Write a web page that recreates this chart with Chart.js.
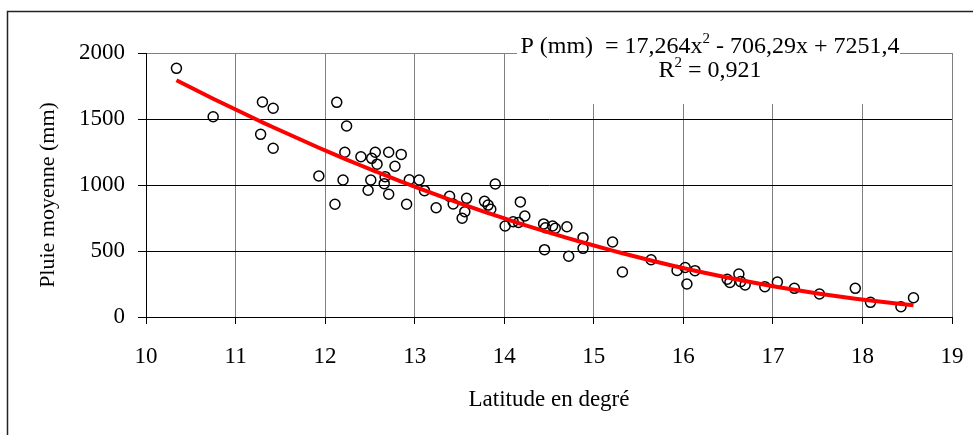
<!DOCTYPE html>
<html>
<head>
<meta charset="utf-8">
<title>Pluie moyenne et latitude</title>
<script src="https://cdn.jsdelivr.net/npm/chart.js@4.4.0/dist/chart.umd.min.js"></script>
<style>
  html, body { margin: 0; padding: 0; background: #fff; }
  #wrap { width: 973px; height: 435px; }
</style>
</head>
<body>
<div id="wrap"><canvas id="c" width="973" height="435"></canvas></div>
<script>
// Stations: latitude (degrees) and mean annual rainfall (mm)
const latitudes = [
  10.34, 10.75, 11.28, 11.30, 11.42, 11.42, 11.93, 12.11, 12.13, 12.20,
  12.22, 12.24, 12.40, 12.48, 12.51, 12.52, 12.56, 12.58, 12.66, 12.67,
  12.71, 12.71, 12.78, 12.85, 12.91, 12.94, 13.05, 13.11, 13.24, 13.39,
  13.43, 13.53, 13.56, 13.58, 13.78, 13.82, 13.85, 13.90, 14.01, 14.10,
  14.16, 14.18, 14.23, 14.44, 14.45, 14.46, 14.54, 14.57, 14.70, 14.72,
  14.88, 14.88, 15.21, 15.32, 15.64, 15.93, 16.02, 16.04, 16.13, 16.49,
  16.52, 16.62, 16.64, 16.69, 16.91, 17.05, 17.24, 17.52, 17.92, 18.09,
  18.43, 18.57
];
const rainfall = [
  1884, 1517, 1384, 1629, 1581, 1278, 1068, 854, 1626, 1038,
  1248, 1447, 1214, 960, 1038, 1202, 1248, 1158, 1010, 1063,
  1248, 930, 1142, 1232, 854, 1040, 1038, 957, 828, 914,
  856, 748, 798, 899, 876, 848, 816, 1008, 689, 722,
  716, 872, 765, 705, 510, 676, 689, 672, 684, 460,
  601, 520, 568, 341, 434, 353, 375, 250, 351, 286,
  262, 326, 268, 242, 230, 265, 217, 174, 217, 111,
  78, 146
];

// Polynomial trend (order 2): a·x² + b·x + c, and its coefficient of determination
const trendCoefs = [17.264, -706.29, 7251.4];
const rSquared = 0.921;

// Axis ticks and titles
const xTicks = [10, 11, 12, 13, 14, 15, 16, 17, 18, 19];
const yTicks = [0, 500, 1000, 1500, 2000];
const xTitle = 'Latitude en degré';
const yTitle = 'Pluie moyenne (mm)';

const SERIF = '"Liberation Serif", "Times New Roman", serif';
Chart.defaults.font.family = SERIF;
Chart.defaults.color = '#000';

const points = latitudes.map((x, i) => ({ x: x, y: rainfall[i] }));
const trendX = Array.from(new Set(latitudes)).sort((a, b) => a - b);
const trendPoints = trendX.map(x => ({
  x: x,
  y: trendCoefs[0] * x * x + trendCoefs[1] * x + trendCoefs[2]
}));

const fr = v => String(v).replace('.', ',');
const sign = v => (v < 0 ? ' - ' : ' + ');

// Equation label drawn as rich text (with superscripts) on a white box
const equationBox = {
  id: 'equationBox',
  beforeDatasetsDraw(chart) {
    const ctx = chart.ctx;
    const cx = 710;
    const main = '24px ' + SERIF;
    const sup = '15px ' + SERIF;
    const line1 = [
      ['P (mm)  = ' + fr(trendCoefs[0]) + 'x', false], ['2', true],
      [sign(trendCoefs[1]) + fr(Math.abs(trendCoefs[1])) + 'x' + sign(trendCoefs[2]) + fr(Math.abs(trendCoefs[2])), false]
    ];
    const line2 = [['R', false], ['2', true], [' = ' + fr(rSquared), false]];
    ctx.save();
    ctx.fillStyle = '#fff';
    ctx.fillRect(517, 26, 383, 78);
    ctx.fillStyle = '#000';
    ctx.textBaseline = 'alphabetic';
    ctx.textAlign = 'left';
    const drawLine = (parts, baseY) => {
      let w = 0;
      parts.forEach(p => { ctx.font = p[1] ? sup : main; w += ctx.measureText(p[0]).width; });
      let x = cx - w / 2;
      parts.forEach(p => {
        ctx.font = p[1] ? sup : main;
        ctx.fillText(p[0], x, p[1] ? baseY - 10 : baseY);
        x += ctx.measureText(p[0]).width;
      });
    };
    drawLine(line1, 53);
    drawLine(line2, 77);
    ctx.restore();
  }
};

// Vertical axis title, rotated
const yTitlePlugin = {
  id: 'yTitlePlugin',
  afterDraw(chart) {
    const ctx = chart.ctx;
    ctx.save();
    ctx.translate(48, 195);
    ctx.rotate(-Math.PI / 2);
    ctx.font = '22px ' + SERIF;
    ctx.fillStyle = '#000';
    ctx.textAlign = 'center';
    ctx.textBaseline = 'middle';
    ctx.fillText(yTitle, 0, 0);
    ctx.restore();
  }
};

// Outer frame and white background
const frame = {
  id: 'frame',
  beforeDraw(chart) {
    const ctx = chart.ctx;
    ctx.save();
    ctx.fillStyle = '#fff';
    ctx.fillRect(0, 0, chart.width, chart.height);
    ctx.strokeStyle = '#222';
    ctx.lineWidth = 1.5;
    ctx.strokeRect(7.5, 11.5, chart.width + 10, chart.height + 10);
    ctx.restore();
  }
};

new Chart(document.getElementById('c'), {
  type: 'scatter',
  data: {
    datasets: [
      {
        label: 'Tendance',
        data: trendPoints,
        showLine: true,
        borderColor: '#ff0000',
        borderWidth: 4,
        pointRadius: 0,
        tension: 0,
        order: 0
      },
      {
        label: 'Pluie moyenne',
        data: points,
        pointStyle: 'circle',
        pointRadius: 5,
        pointBorderWidth: 1.5,
        borderColor: '#000',
        backgroundColor: 'rgba(0,0,0,0)',
        order: 1
      }
    ]
  },
  options: {
    responsive: false,
    animation: false,
    devicePixelRatio: 1,
    layout: { padding: { top: 53, right: 21, left: 0, bottom: 0 } },
    plugins: { legend: { display: false }, tooltip: { enabled: false } },
    scales: {
      x: {
        type: 'linear',
        min: 10,
        max: 19,
        afterBuildTicks: s => { s.ticks = xTicks.map(v => ({ value: v })); },
        afterFit: s => { s.height = 118; s.paddingLeft = 0; s.paddingRight = 0; },
        grid: {
          color: c => (c.tick && c.tick.value === 10 ? '#000' : '#808080'),
          lineWidth: 1,
          tickLength: 7,
          tickColor: '#000'
        },
        border: { display: true, color: '#000', width: 1 },
        ticks: { padding: 19, font: { size: 23 }, color: '#000', maxRotation: 0, autoSkip: false, callback: v => String(v) },
        title: { display: true, text: xTitle, font: { size: 23 }, color: '#000', padding: { top: 0, bottom: 21 } }
      },
      y: {
        min: 0,
        max: 2000,
        afterBuildTicks: s => { s.ticks = yTicks.map(v => ({ value: v })); },
        afterFit: s => { s.width = 146; s.paddingTop = 0; s.paddingBottom = 0; },
        grid: {
          color: c => (c.tick && c.tick.value === 2000 ? '#808080' : '#000'),
          lineWidth: 1,
          tickLength: 8,
          tickColor: '#000'
        },
        border: { display: true, color: '#000', width: 1 },
        ticks: { padding: 13, font: { size: 23 }, color: '#000', callback: v => String(v) },
        title: { display: false }
      }
    }
  },
  plugins: [frame, equationBox, yTitlePlugin]
});
</script>
</body>
</html>
